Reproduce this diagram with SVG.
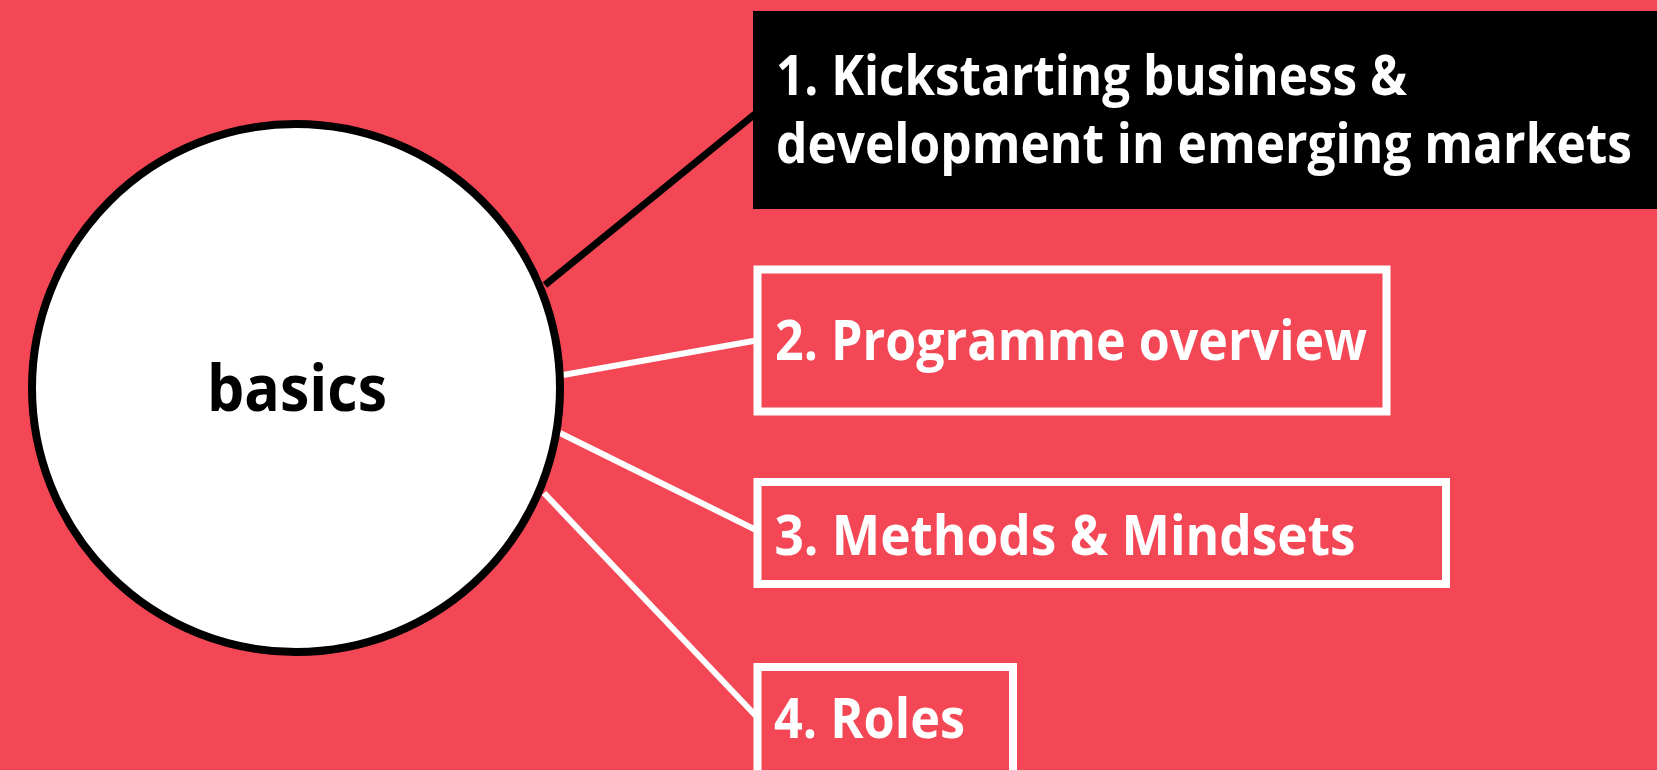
<svg xmlns="http://www.w3.org/2000/svg" width="1657" height="770" viewBox="0 0 1657 770">
<style>
.t{font-family:"Open Sans","Liberation Sans",sans-serif;font-weight:700;font-size:56px;fill:#ffffff}
.box{fill:none;stroke:#ffffff;stroke-width:8}
.wl{stroke:#ffffff;stroke-width:6}
.bl{stroke:#000000;stroke-width:7}
</style>
<rect x="0" y="0" width="1657" height="770" fill="#F34756"/>
<g id="connectors">
<line class="bl" x1="545" y1="285" x2="755" y2="114"/>
<line class="wl" x1="563" y1="375" x2="756" y2="340.5"/>
<line class="wl" x1="560" y1="433" x2="756" y2="530"/>
<line class="wl" x1="544" y1="493" x2="756" y2="716"/>
</g>
<g id="node-basics">
<circle cx="296" cy="388" r="264" fill="#ffffff" stroke="#000000" stroke-width="8"/>
<text x="297" y="411" text-anchor="middle" textLength="180" lengthAdjust="spacingAndGlyphs" style="font-family:'Open Sans','Liberation Sans',sans-serif;font-weight:700;font-size:64px;fill:#000000">basics</text>
</g>
<g id="node-1">
<rect x="753" y="11" width="904" height="198" fill="#000000"/>
<text class="t" x="776" y="95" textLength="631" lengthAdjust="spacingAndGlyphs">1. Kickstarting business &amp;</text>
<text class="t" x="776" y="163" textLength="856" lengthAdjust="spacingAndGlyphs">development in emerging markets</text>
</g>
<g id="node-2">
<rect class="box" x="757.5" y="269.5" width="629" height="142"/>
<text class="t" x="775" y="360" textLength="592" lengthAdjust="spacingAndGlyphs">2. Programme overview</text>
</g>
<g id="node-3">
<rect class="box" x="757.5" y="482" width="688.5" height="102"/>
<text class="t" x="774.5" y="555" textLength="581" lengthAdjust="spacingAndGlyphs">3. Methods &amp; Mindsets</text>
</g>
<g id="node-4">
<rect class="box" x="757.5" y="667" width="255.5" height="130"/>
<text class="t" x="774" y="738" textLength="191" lengthAdjust="spacingAndGlyphs">4. Roles</text>
</g>
</svg>
